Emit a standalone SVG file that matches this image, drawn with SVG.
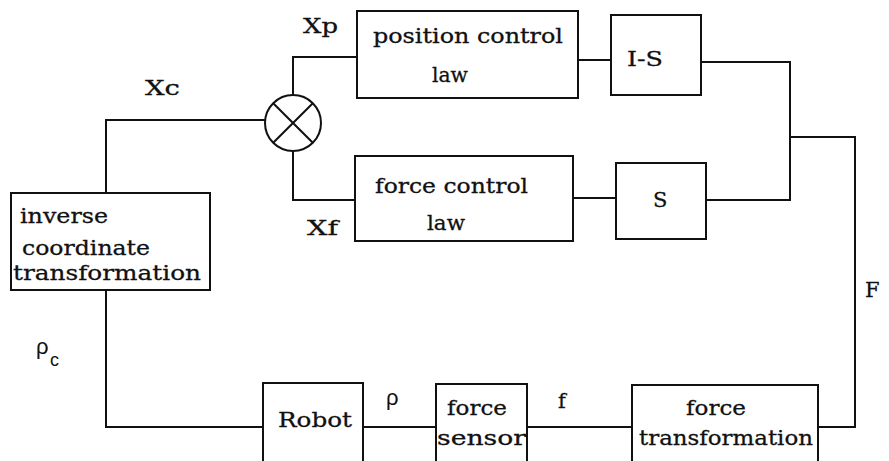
<svg xmlns="http://www.w3.org/2000/svg" width="889" height="461" viewBox="0 0 889 461">
<style>
.box{fill:none;stroke:#111;stroke-width:2}
.wire{fill:none;stroke:#111;stroke-width:2}
.t{font-family:"DejaVu Serif","Liberation Serif",serif;font-size:21px;fill:#111;stroke:#111;stroke-width:0.3}
.g{font-family:"Liberation Sans",sans-serif;font-size:22px;fill:#111}
</style>
<rect width="889" height="461" fill="#fff"/>
<g id="connectors">
<path class="wire" d="M106,193 V120 H265"/>
<path class="wire" d="M293,95 V57 H357"/>
<path class="wire" d="M293,151 V200 H355"/>
<path class="wire" d="M578,60 H611"/>
<path class="wire" d="M573,198 H616"/>
<path class="wire" d="M701,62 H790 V200 H706"/>
<path class="wire" d="M790,137 H855 V427 H818"/>
<path class="wire" d="M527,427 H632"/>
<path class="wire" d="M363,427 H436"/>
<path class="wire" d="M106,290 V427 H263"/>
<text class="t" x="303" y="33" textLength="35" lengthAdjust="spacingAndGlyphs">Xp</text>
<text class="t" x="145" y="95" textLength="35" lengthAdjust="spacingAndGlyphs">Xc</text>
<text class="t" x="307" y="235" textLength="31" lengthAdjust="spacingAndGlyphs">Xf</text>
<text class="g" x="36" y="354">ρ</text>
<text class="g" x="50" y="366" style="font-size:18px">c</text>
<text class="g" x="386" y="405">ρ</text>
<text class="t" x="558" y="408">f</text>
<text class="t" x="865" y="297">F</text>
</g>
<g id="sum">
<circle cx="293" cy="123" r="28" class="box"/>
<path class="wire" d="M273.2,103.2 L312.8,142.8 M312.8,103.2 L273.2,142.8"/>
</g>
<g id="position-control">
<rect class="box" x="357" y="11" width="221" height="87"/>
<text class="t" x="373" y="43" textLength="190" lengthAdjust="spacingAndGlyphs">position control</text>
<text class="t" x="432" y="82" textLength="36" lengthAdjust="spacingAndGlyphs">law</text>
</g>
<g id="i-s">
<rect class="box" x="611" y="15" width="90" height="80"/>
<text class="t" x="627" y="66" textLength="36" lengthAdjust="spacingAndGlyphs">I-S</text>
</g>
<g id="force-control">
<rect class="box" x="355" y="156" width="218" height="85"/>
<text class="t" x="375" y="193" textLength="153" lengthAdjust="spacingAndGlyphs">force control</text>
<text class="t" x="427" y="230" textLength="38" lengthAdjust="spacingAndGlyphs">law</text>
</g>
<g id="s">
<rect class="box" x="616" y="163" width="90" height="76"/>
<text class="t" x="653" y="207">S</text>
</g>
<g id="inverse">
<rect class="box" x="11" y="193" width="199" height="97"/>
<text class="t" x="20" y="223" textLength="88" lengthAdjust="spacingAndGlyphs">inverse</text>
<text class="t" x="22" y="255" textLength="128" lengthAdjust="spacingAndGlyphs">coordinate</text>
<text class="t" x="13" y="280" textLength="188" lengthAdjust="spacingAndGlyphs">transformation</text>
</g>
<g id="robot">
<rect class="box" x="263" y="383" width="100" height="90"/>
<text class="t" x="278" y="427" textLength="74" lengthAdjust="spacingAndGlyphs">Robot</text>
</g>
<g id="force-sensor">
<rect class="box" x="436" y="384" width="91" height="90"/>
<text class="t" x="447" y="415" textLength="60" lengthAdjust="spacingAndGlyphs">force</text>
<text class="t" x="437" y="445" textLength="89" lengthAdjust="spacingAndGlyphs">sensor</text>
</g>
<g id="force-transformation">
<rect class="box" x="632" y="385" width="186" height="90"/>
<text class="t" x="686" y="415" textLength="60" lengthAdjust="spacingAndGlyphs">force</text>
<text class="t" x="639" y="445" textLength="174" lengthAdjust="spacingAndGlyphs">transformation</text>
</g>
</svg>
